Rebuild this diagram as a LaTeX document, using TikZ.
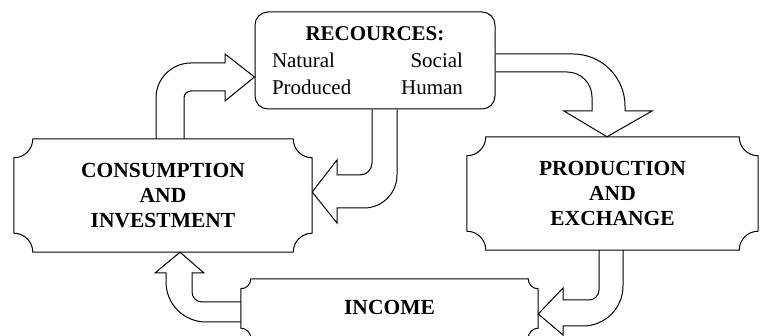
\documentclass[tikz,border=0pt]{standalone}
\usepackage{fontspec}
\setmainfont{Liberation Serif}
\usepackage{tikz}
\usetikzlibrary{positioning, calc}

% frame with concave (notched) corners around a node: #1 node name, #2 corner radius
\newcommand{\notchframe}[2]{%
  \draw[line width=1pt] ([xshift=#2]#1.north west) -- ([xshift=-#2]#1.north east)
    arc[start angle=180, end angle=270, radius=#2] -- ([yshift=#2]#1.south east)
    arc[start angle=90, end angle=180, radius=#2] -- ([xshift=#2]#1.south west)
    arc[start angle=0, end angle=90, radius=#2] -- ([yshift=-#2]#1.north west)
    arc[start angle=270, end angle=360, radius=#2] -- cycle;}

\begin{document}
\begin{tikzpicture}[x=1pt, y=1pt,
    sector/.style={align=center, inner sep=0pt, minimum height=113pt,
      font=\bfseries\fontsize{21.5}{25}\selectfont},
    stock/.style={draw, line width=1pt, rounded corners=13pt, align=center, inner sep=0pt,
      minimum width=240pt, minimum height=97pt, font=\fontsize{21}{27}\selectfont},
    fatarrow/.style={draw, line width=1pt, line join=miter}]

    \useasboundingbox (0,0) rectangle (761,336);

    \node [stock] (res) at (375,275.5) {\textbf{RECOURCES:}\\
      \makebox[206pt][l]{\makebox[191pt]{Natural\hfill Social}}\\
      \makebox[206pt][l]{\makebox[191pt]{Produced\hfill Human}}};
    \node [sector, minimum width=298pt] (cons) at (163,140.5) {CONSUMPTION\\AND\\INVESTMENT};
    \node [sector, minimum width=291pt] (prod) at (612.5,142.5) {PRODUCTION\\AND\\EXCHANGE};
    \node [sector, minimum width=297pt, minimum height=59pt] (inc) at (389.5,27.5) {\raisebox{3pt}{INCOME}};

    \notchframe{cons}{19pt}
    \notchframe{prod}{19pt}
    \notchframe{inc}{10pt}

    % consumption -> resources
    \draw [fatarrow] (156,0 |- cons.north) -- (156,238)
      arc[start angle=180, end angle=90, radius=35] -- (225,273) -- (225,282)
      -- (res.west |- 0,259) -- (225,235) -- (225,245) -- (191,245)
      arc[start angle=90, end angle=180, radius=7] -- (184,0 |- cons.north);

    % resources -> consumption
    \draw [fatarrow] (372,0 |- res.south) -- (372,173)
      arc[start angle=0, end angle=-90, radius=12] -- (337,161) -- (337,176)
      -- (cons.east |- 0,144) -- (337,113) -- (337,128) -- (364,128)
      arc[start angle=-90, end angle=0, radius=33] -- (397,0 |- res.south);

    % resources -> production
    \draw [fatarrow] (res.east |- 0,282) -- (573,282)
      arc[start angle=90, end angle=0, radius=52] -- (625,225) -- (652,225)
      -- (607,0 |- prod.north) -- (564,225) -- (592,225) -- (592,239)
      arc[start angle=0, end angle=90, radius=25] -- (res.east |- 0,264);

    % production -> income
    \draw [fatarrow] (599,0 |- prod.south) -- (599,46)
      arc[start angle=0, end angle=-90, radius=10] -- (563,36) -- (563,48)
      -- (inc.east |- 0,22) -- (563,1) -- (563,10) -- (583,10)
      arc[start angle=-90, end angle=0, radius=40] -- (623,0 |- prod.south);

    % income -> consumption
    \draw [fatarrow] (inc.west |- 0,34) -- (202,34)
      arc[start angle=-90, end angle=-180, radius=10] -- (192,63) -- (204,63)
      -- (180,0 |- cons.south) -- (155,63) -- (166,63) -- (166,54)
      arc[start angle=180, end angle=270, radius=40] -- (inc.west |- 0,14);

\end{tikzpicture}
\end{document}
